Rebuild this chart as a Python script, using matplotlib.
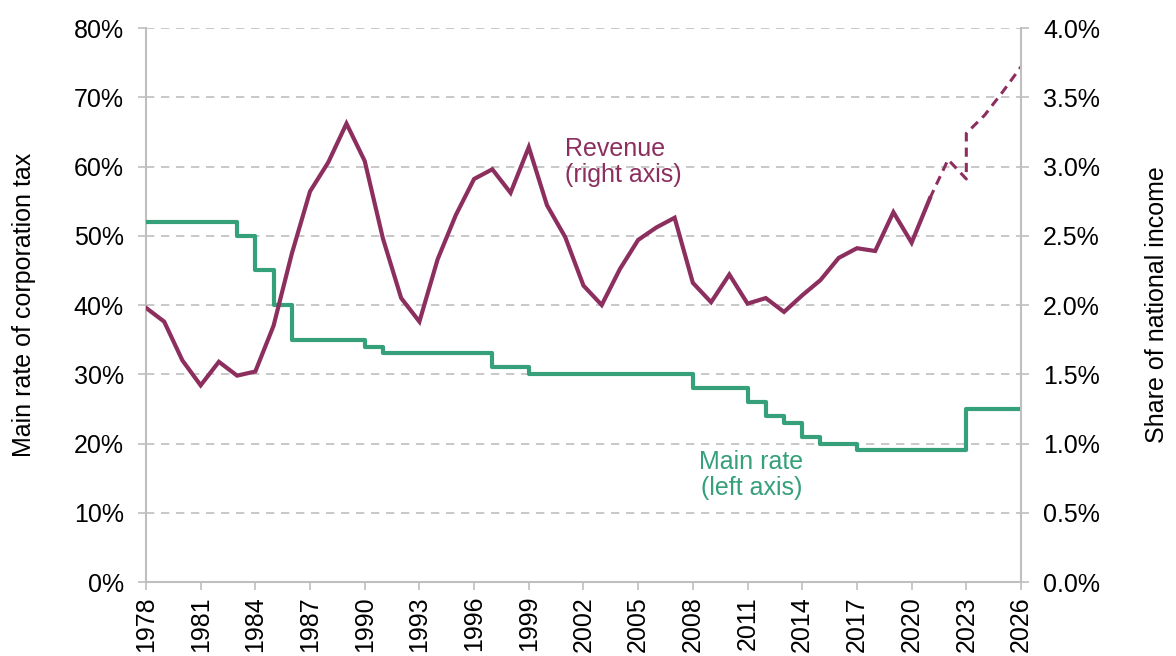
import numpy as np
import matplotlib.pyplot as plt
from matplotlib.ticker import FuncFormatter

plt.rcParams['font.family'] = ['Liberation Sans', 'DejaVu Sans']

# main rate (step changes, value holds until next year)
rate_years = [1978, 1983, 1984, 1985, 1986, 1990, 1991, 1997, 1999, 2008, 2011, 2012, 2013, 2014, 2015, 2017, 2023, 2026]
rate_vals = [52, 50, 45, 40, 35, 34, 33, 31, 30, 28, 26, 24, 23, 21, 20, 19, 25, 25]

# revenue, share of national income (%)
rev_years = list(range(1978, 2022))
rev_vals = [1.98, 1.88, 1.60, 1.42, 1.59, 1.49, 1.52, 1.85, 2.37, 2.82,
            3.03, 3.31, 3.04, 2.48, 2.05, 1.88, 2.33, 2.65, 2.91, 2.98,
            2.81, 3.14, 2.72, 2.49, 2.14, 2.00, 2.26, 2.47, 2.56, 2.63,
            2.16, 2.02, 2.22, 2.01, 2.05, 1.95, 2.07, 2.18, 2.34, 2.41,
            2.39, 2.67, 2.45, 2.77]
fc_years = [2021, 2022, 2023, 2023, 2024, 2025, 2026]
fc_vals = [2.77, 3.05, 2.91, 3.24, 3.37, 3.54, 3.72]

purple = '#8C2F5F'
green = '#35A07A'
grey = '#BFBFBF'
fs = 18

fig = plt.figure(figsize=(11.76, 6.56), dpi=100)
ax = fig.add_axes([0.1241, 0.1128, 0.7441, 0.8445])
ax2 = ax.twinx()

ax.step(rate_years, rate_vals, where='post', color=green, lw=3, zorder=3)
ax2.plot(rev_years, rev_vals, color=purple, lw=3, solid_joinstyle='miter')
ax2.plot(fc_years, fc_vals, color=purple, lw=2.2, ls=(0, (3, 2)))

ax.set_xlim(1978, 2026)
ax.set_ylim(0, 80)
ax2.set_ylim(0, 4)
ax.set_xticks(range(1978, 2027, 3))
ax.set_xticklabels([str(y) for y in range(1978, 2027, 3)], rotation=90)
ax.set_yticks(range(0, 81, 10))
ax2.set_yticks(np.arange(0, 4.01, 0.5))
ax.yaxis.set_major_formatter(FuncFormatter(lambda v, p: f"{v:.0f}%"))
ax2.yaxis.set_major_formatter(FuncFormatter(lambda v, p: f"{v:.1f}%"))

ax.grid(axis='y', color=grey, ls=(0, (5, 4)), lw=1.2)
ax.set_axisbelow(True)
for a in (ax, ax2):
    a.spines['top'].set_visible(False)
    for s in ('left', 'right', 'bottom'):
        a.spines[s].set_color(grey)
        a.spines[s].set_linewidth(1.5)
    a.tick_params(colors=grey, labelcolor='black', labelsize=fs, length=6, width=1.2)
ax.tick_params(axis='y', pad=10)
ax2.tick_params(axis='y', pad=10)
ax.tick_params(axis='x', pad=4)
ax.spines['right'].set_visible(False)
ax2.spines['left'].set_visible(False)
ax2.spines['bottom'].set_visible(False)

ax.set_ylabel('Main rate of corporation tax', fontsize=fs, labelpad=27)
ax2.set_ylabel('Share of national income', fontsize=fs, labelpad=32)

ax2.text(2001.0, 3.03, 'Revenue\n(right axis)', color=purple, fontsize=fs,
         ha='left', va='center', linespacing=1.1)
ax.text(2011.2, 15.4, 'Main rate\n(left axis)', color=green, fontsize=fs,
        ha='center', va='center', linespacing=1.1)

fig.savefig('out.png', dpi=100)
